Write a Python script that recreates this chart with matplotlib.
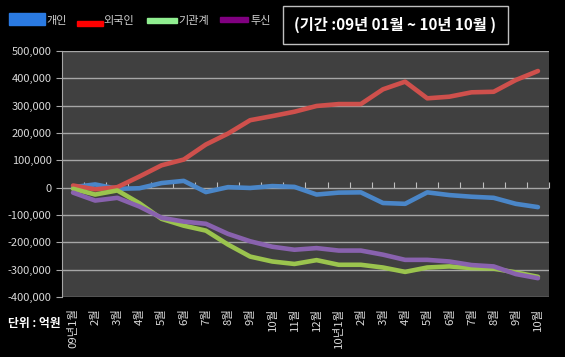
import matplotlib
matplotlib.use("Agg")
import matplotlib.pyplot as plt
from matplotlib.patches import Rectangle
from matplotlib.ticker import FuncFormatter, MultipleLocator

plt.rcParams['font.family'] = ['Noto Sans CJK KR', 'DejaVu Sans']

months = ["09년1월", "2월", "3월", "4월", "5월", "6월", "7월", "8월", "9월", "10월",
          "11월", "12월", "10년1월", "2월", "3월", "4월", "5월", "6월", "7월", "8월",
          "9월", "10월"]

# 누적 순매수 (억원)
individual = [2000, 12000, -4000, -2000, 17000, 25000, -16000, 2000, -1000, 6000,
              3000, -25000, -18000, -17000, -56000, -59000, -17000, -27000, -33000,
              -37000, -59000, -71000]
foreign = [8000, -6000, 2000, 41000, 82000, 103000, 158000, 198000, 247000, 262000,
           278000, 299000, 306000, 306000, 360000, 388000, 327000, 333000, 349000,
           351000, 394000, 427000]
institution = [-4000, -25000, -10000, -57000, -114000, -139000, -157000, -208000,
               -252000, -270000, -279000, -265000, -282000, -282000, -292000, -308000,
               -292000, -288000, -294000, -296000, -310000, -326000]
trust = [-18000, -47000, -37000, -69000, -110000, -124000, -132000, -169000, -196000,
         -216000, -227000, -221000, -230000, -230000, -245000, -264000, -264000,
         -270000, -283000, -288000, -316000, -331000]

series = [("개인", individual, "#4a86c8", "#2a7ae2"),
          ("외국인", foreign, "#cf504c", "#ff0000"),
          ("기관계", institution, "#9bc44e", "#90ee90"),
          ("투신", trust, "#8962ae", "#800080")]

fig = plt.figure(figsize=(5.65, 3.57), dpi=100, facecolor="black")
ax = fig.add_axes([0.1097, 0.168, 0.862, 0.689])
ax.set_facecolor("#404040")

x = list(range(len(months)))
for name, vals, col, _ in series:
    ax.plot(x, vals, color=col, lw=3.3, solid_joinstyle="round", solid_capstyle="round")

ax.set_xlim(-0.5, len(months) - 0.5)
ax.set_ylim(-400000, 500000)
ax.yaxis.set_major_locator(MultipleLocator(100000))
ax.yaxis.set_major_formatter(FuncFormatter(lambda v, p: f"{int(v):,}"))
ax.grid(axis="y", color="#a6a6a6", lw=1)
ax.set_axisbelow(True)

ax.set_xticks(x)
ax.set_xticklabels(months, rotation=90, va="top", ha="center")
ax.tick_params(axis="x", length=0, colors="#d9d9d9", labelsize=8.2, pad=8)
ax.tick_params(axis="y", length=4, color="#a6a6a6", colors="#d9d9d9", labelsize=8)
for lbl in ax.get_yticklabels():
    lbl.set_color("#d9d9d9")

for side in ["top", "right", "bottom"]:
    ax.spines[side].set_visible(False)
ax.spines["left"].set_color("#a6a6a6")

# category axis tick marks on the zero line
sec = ax.secondary_xaxis(4 / 9)
sec.set_xticks([i - 0.5 for i in range(1, len(months) + 1)])
sec.tick_params(axis="x", length=4, direction="in", color="#bfbfbf", labelbottom=False,
                labeltop=False)
sec.spines["bottom"].set_visible(False)
sec.spines["top"].set_visible(False)

# legend
leg_pos = [(9, 13, 36, 12, 46), (77, 21, 26, 5, 103), (147, 18, 30, 5, 178), (220, 17, 28, 5, 250)]
for (name, vals, col, lcol), (lx, ly, lw, lh, tx) in zip(series, leg_pos):
    fig.patches.append(Rectangle((lx / 565, 1 - (ly + lh) / 357), lw / 565, lh / 357,
                                 transform=fig.transFigure, color=lcol))
    fig.text(tx / 565, 1 - 26 / 357, name, color="#d0d0d0", fontsize=8, va="bottom")

fig.patches.append(Rectangle((283 / 565, 1 - 44 / 357), 225 / 565, 38 / 357,
                             transform=fig.transFigure, facecolor="black",
                             edgecolor="#bfbfbf", lw=1))
fig.text(395 / 565, 1 - 25 / 357, "(기간 :09년 01월 ~ 10년 10월 )", color="white",
         fontsize=11, fontweight="bold", ha="center", va="center")

fig.text(8 / 565, 1 - 323 / 357, "단위 : 억원", color="white", fontsize=8.5,
         fontweight="bold", va="center")

fig.savefig("out.png", dpi=100, facecolor="black")
